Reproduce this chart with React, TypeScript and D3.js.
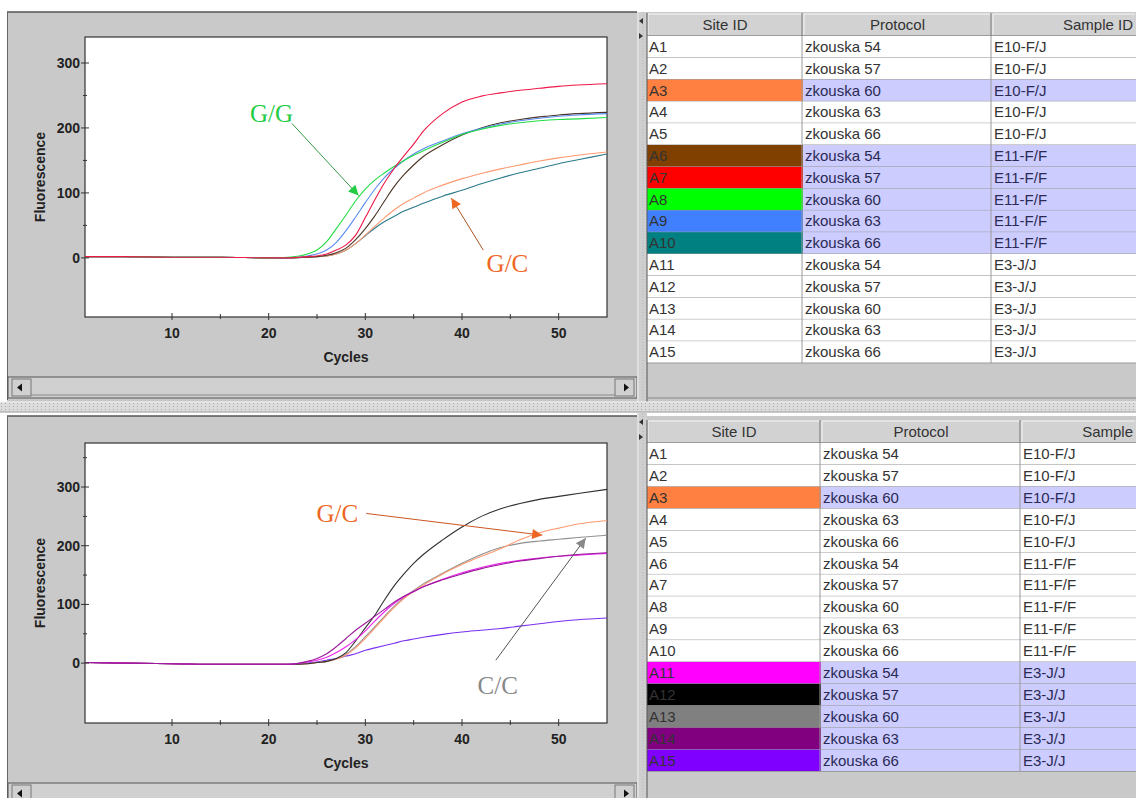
import React from "react";
import * as d3 from "d3";

const cycles = [1, 5, 10, 15, 20, 22, 24, 25, 26, 27, 28, 29, 30, 31, 32, 33, 34, 35, 36, 38, 40, 42, 44, 46, 48, 50, 52, 55];

// upper run (wells A3, A6..A10)
const topA3 = [2, 2, 1, 1, 0, 0, 1, 2, 3, 6, 12, 22, 35, 49, 62, 74, 84, 92, 100, 112, 122, 130, 137, 143, 149, 154, 158, 163];
const topA6 = [2, 2, 1, 1, 0, 0, 1, 2, 4, 8, 15, 28, 45, 65, 88, 110, 128, 143, 156, 174, 189, 200, 208, 213, 217, 220, 222, 224];
const topA7 = [2, 2, 1, 1, 0, 0, 2, 3, 6, 12, 20, 35, 62, 90, 116, 138, 157, 175, 195, 222, 240, 249, 254, 258, 261, 264, 266, 268];
const topA8 = [2, 2, 1, 1, 0, 1, 6, 12, 25, 45, 66, 88, 106, 120, 131, 141, 150, 158, 165, 178, 190, 198, 204, 208, 211, 213, 214, 216];
const topA9 = [2, 2, 1, 1, 0, 0, 3, 6, 12, 24, 42, 63, 85, 106, 124, 138, 150, 160, 168, 180, 191, 199, 206, 211, 215, 218, 220, 222];
const topA10 = [2, 2, 1, 1, 0, 0, 1, 2, 3, 6, 12, 22, 34, 46, 56, 64, 72, 78, 84, 95, 104, 114, 123, 131, 138, 145, 151, 160];

// lower run (wells A3, A11..A15)
const botA3 = [1, 0, -1, -2, -2, -2, -1, 1, 3, 7, 14, 26, 42, 60, 78, 95, 110, 122, 133, 152, 168, 182, 195, 210, 222, 230, 237, 243];
const botA11 = [1, 0, -1, -2, -2, -2, 2, 5, 10, 18, 28, 40, 55, 72, 88, 102, 113, 122, 130, 143, 154, 163, 170, 175, 179, 182, 184, 187];
const botA12 = [1, 0, -1, -2, -2, -2, -1, 1, 3, 8, 18, 38, 60, 82, 108, 132, 152, 170, 185, 210, 232, 250, 263, 272, 279, 284, 289, 296];
const botA13 = [1, 0, -1, -2, -2, -2, -1, 1, 3, 7, 15, 28, 45, 62, 80, 97, 112, 124, 135, 153, 170, 185, 197, 204, 208, 211, 214, 218];
const botA14 = [1, 0, -1, -2, -2, -2, 3, 8, 16, 28, 42, 56, 68, 80, 92, 104, 114, 122, 130, 142, 152, 161, 168, 174, 178, 182, 185, 188];
const botA15 = [1, 0, -1, -2, -2, -2, 0, 2, 5, 8, 12, 16, 22, 26, 30, 34, 38, 41, 44, 49, 53, 56, 59, 63, 67, 71, 74, 77];

const xTicks = [10, 20, 30, 40, 50];
const xMinor = [15, 25, 35, 45];
const yTicks = [0, 100, 200, 300];

// table contents
const siteIds = ["A1", "A2", "A3", "A4", "A5", "A6", "A7", "A8", "A9", "A10", "A11", "A12", "A13", "A14", "A15"];
const protocols = ["zkouska 54", "zkouska 57", "zkouska 60", "zkouska 63", "zkouska 66",
  "zkouska 54", "zkouska 57", "zkouska 60", "zkouska 63", "zkouska 66",
  "zkouska 54", "zkouska 57", "zkouska 60", "zkouska 63", "zkouska 66"];
const sampleIds = ["E10-F/J", "E10-F/J", "E10-F/J", "E10-F/J", "E10-F/J",
  "E11-F/F", "E11-F/F", "E11-F/F", "E11-F/F", "E11-F/F",
  "E3-J/J", "E3-J/J", "E3-J/J", "E3-J/J", "E3-J/J"];
const topHeaders = ["Site ID", "Protocol", "Sample ID"];
const bottomHeaders = ["Site ID", "Protocol", "Sample"];

const wellColors: Record<string, string> = {
  A3: "#ff8040", A6: "#804000", A7: "#ff0000", A8: "#00ff00", A9: "#4080ff", A10: "#008080",
  A11: "#ff00ff", A12: "#000000", A13: "#808080", A14: "#800080", A15: "#8000ff",
};
const lineColors: Record<string, string> = {
  A3: "#ff9a70", A6: "#4a3526", A7: "#ee1848", A8: "#22dd44", A9: "#5a8cf0", A10: "#2a7a8a",
  A11: "#ee22ee", A12: "#303030", A13: "#909090", A14: "#9a1a9a", A15: "#7a30f0",
};

const topSeries = [
  { id: "A10", values: topA10 }, { id: "A3", values: topA3 }, { id: "A6", values: topA6 },
  { id: "A9", values: topA9 }, { id: "A8", values: topA8 }, { id: "A7", values: topA7 },
];
const bottomSeries = [
  { id: "A15", values: botA15 }, { id: "A13", values: botA13 }, { id: "A3", values: botA3 },
  { id: "A12", values: botA12 }, { id: "A11", values: botA11 }, { id: "A14", values: botA14 },
];

// genotype call-outs, in data units (cycle, fluorescence)
const topNotes = [
  { text: "G/G", color: "#22cc44", line: "#339944", at: [20.3, 209], from: [22.4, 207], to: [29.3, 96] },
  { text: "G/C", color: "#ee6622", line: "#aa5522", at: [44.7, -22], from: [42.2, 12], to: [38.9, 92] },
];
const bottomNotes = [
  { text: "G/C", color: "#ee6622", line: "#cc5522", at: [27.1, 240], from: [30.1, 255], to: [48.3, 218] },
  { text: "C/C", color: "#888888", line: "#555555", at: [43.7, -52], from: [43.5, 5], to: [52.8, 213] },
];

const PANEL = "#c9c9c9";
const sans = "'Liberation Sans', Arial, sans-serif";

function Scrollbar({ y }: { y: number }) {
  return (
    <g>
      <rect x={8} y={y} width={629} height={21} fill="#d0d0d0" stroke="#555" />
      <rect x={12} y={y + 2} width={19} height={17} fill="#d0d0d0" stroke="#777" />
      <path d={`M17,${y + 10.5} l5,-4 v8 z`} fill="#111" />
      <rect x={615} y={y + 2} width={19} height={17} fill="#d0d0d0" stroke="#777" />
      <path d={`M629,${y + 10.5} l-5,-4 v8 z`} fill="#111" />
      <line x1={31} x2={615} y1={y + 18} y2={y + 18} stroke="#888" />
    </g>
  );
}

function Plot({ plotTop, plotBottom, yDomain, yMinor, series, notes, tag }: any) {
  const x = d3.scaleLinear().domain([1, 55]).range([85, 607]);
  const y = d3.scaleLinear().domain(yDomain).range([plotBottom, plotTop]);
  const line = d3.line<number>()
    .x((_, i) => x(cycles[i]))
    .y(d => y(d))
    .curve(d3.curveMonotoneX);
  const midX = (x.range()[0] + x.range()[1]) / 2;
  const midY = (plotTop + plotBottom) / 2;
  return (
    <g>
      <defs>
        <clipPath id={`clip-${tag}`}>
          <rect x={85} y={plotTop} width={522} height={plotBottom - plotTop} />
        </clipPath>
        {notes.map((n: any, i: number) => (
          <marker key={i} id={`head-${tag}-${i}`} viewBox="0 0 10 10" refX={10} refY={5}
            markerWidth={12} markerHeight={10} markerUnits="userSpaceOnUse" orient="auto">
            <path d="M0,0 L10,5 L0,10 z" fill={n.color} />
          </marker>
        ))}
      </defs>
      <rect x={85} y={plotTop} width={522} height={plotBottom - plotTop} fill="#fff" stroke="#333" strokeWidth={1.2} />
      <g clipPath={`url(#clip-${tag})`}>
        {series.map((s: any) => (
          <path key={s.id} d={line(s.values) || ""} fill="none" stroke={lineColors[s.id]} strokeWidth={1.1} />
        ))}
      </g>
      {yTicks.map(t => (
        <g key={t}>
          <line x1={81} x2={89} y1={y(t)} y2={y(t)} stroke="#333" />
          <text x={80} y={y(t) + 5} textAnchor="end" fontFamily={sans} fontWeight="bold" fontSize={14} fill="#222">{t}</text>
        </g>
      ))}
      {yMinor.map((t: number) => (
        <line key={t} x1={83} x2={87} y1={y(t)} y2={y(t)} stroke="#333" />
      ))}
      {xTicks.map(t => (
        <g key={t}>
          <line x1={x(t)} x2={x(t)} y1={plotBottom - 4} y2={plotBottom + 3} stroke="#333" />
          <text x={x(t)} y={plotBottom + 21} textAnchor="middle" fontFamily={sans} fontWeight="bold" fontSize={14} fill="#222">{t}</text>
        </g>
      ))}
      {xMinor.map(t => (
        <line key={t} x1={x(t)} x2={x(t)} y1={plotBottom - 3} y2={plotBottom + 2} stroke="#333" />
      ))}
      <text transform={`translate(45,${midY}) rotate(-90)`} textAnchor="middle" fontFamily={sans}
        fontWeight="bold" fontSize={14} fill="#222">Fluorescence</text>
      <text x={midX} y={plotBottom + 45} textAnchor="middle" fontFamily={sans} fontWeight="bold" fontSize={14} fill="#222">Cycles</text>
      {notes.map((n: any, i: number) => (
        <g key={i}>
          <line x1={x(n.from[0])} y1={y(n.from[1])} x2={x(n.to[0])} y2={y(n.to[1])}
            stroke={n.line} strokeWidth={1} markerEnd={`url(#head-${tag}-${i})`} />
          <text x={x(n.at[0])} y={y(n.at[1])} textAnchor="middle" fontFamily="'Liberation Serif', 'Times New Roman', serif"
            fontSize={25} fill={n.color}>{n.text}</text>
        </g>
      ))}
    </g>
  );
}

function Table({ top, rowH, cols, marked, headers }: any) {
  const headH = 23;
  const rows = d3.range(siteIds.length);
  const rowY = d3.scaleLinear().domain([0, 1]).range([top + headH, top + headH + rowH]);
  const right = 1136;
  const edges = [...cols, right];
  return (
    <g>
      <defs>
        <clipPath id={`tclip-${top}`}>
          <rect x={647} y={top} width={right - 647} height={400} />
        </clipPath>
      </defs>
      <g clipPath={`url(#tclip-${top})`}>
        {headers.map((h: string, i: number) => {
          const last = i === headers.length - 1;
          return (
            <g key={h}>
              <rect x={edges[i]} y={top} width={edges[i + 1] - edges[i]} height={headH} fill="#d2d2d2" />
              <line x1={edges[i] + 1} x2={edges[i + 1] - 1} y1={top + 1} y2={top + 1} stroke="#f4f4f4" />
              <line x1={edges[i] + 1} x2={edges[i] + 1} y1={top + 1} y2={top + headH - 1} stroke="#f4f4f4" />
              {!last && <line x1={edges[i + 1] - 1} x2={edges[i + 1] - 1} y1={top} y2={top + headH} stroke="#777" />}
              <text x={last ? right - 3 : (edges[i] + edges[i + 1]) / 2} y={top + 17}
                textAnchor={last ? "end" : "middle"} fontFamily={sans} fontSize={15} fill="#333">{h}</text>
            </g>
          );
        })}
        <line x1={647} x2={right} y1={top + headH} y2={top + headH} stroke="#666" />
        {rows.map(i => {
          const id = siteIds[i];
          const on = marked.includes(id);
          const y0 = rowY(i);
          const cells = [id, protocols[i], sampleIds[i]];
          return (
            <g key={id}>
              {cells.map((c, j) => (
                <g key={j}>
                  <rect x={edges[j]} y={y0} width={edges[j + 1] - edges[j]} height={rowH}
                    fill={on ? (j === 0 ? wellColors[id] : "#ccccff") : "#fff"} />
                  <text x={edges[j] + 2} y={y0 + 16} fontFamily={sans} fontSize={15}
                    fill={on && j > 0 ? "#2a2a55" : "#333"}>{c}</text>
                </g>
              ))}
              <line x1={647} x2={right} y1={y0 + rowH} y2={y0 + rowH} stroke="#9a9a9a" />
            </g>
          );
        })}
        {cols.slice(1).map((c: number) => (
          <line key={c} x1={c - 1} x2={c - 1} y1={top + headH} y2={rowY(rows.length)} stroke="#9a9a9a" />
        ))}
      </g>
      <line x1={647} x2={647} y1={top} y2={top + 390} stroke="#555" />
    </g>
  );
}

function Divider({ y }: { y: number }) {
  return (
    <g>
      <rect x={0} y={y} width={1136} height={10} fill="url(#dots)" />
      <line x1={0} x2={1136} y1={y} y2={y} stroke="#f2f2f2" />
      <line x1={0} x2={1136} y1={y + 10} y2={y + 10} stroke="#999" />
    </g>
  );
}

function Splitter({ y0, y1 }: { y0: number; y1: number }) {
  return (
    <g>
      <rect x={637} y={y0} width={10} height={y1 - y0} fill="#cfcfcf" />
      <line x1={638} x2={638} y1={y0} y2={y1} stroke="#eee" />
      <line x1={643} x2={643} y1={y0} y2={y1} stroke="#b4b4c4" strokeDasharray="1,2" />
      <path d={`M639,${y0 + 9} l4,-3 v6 z`} fill="#333" />
      <path d={`M643,${y0 + 24} l-4,-3 v6 z`} fill="#333" />
    </g>
  );
}

export default function App() {
  return (
    <div style={{ position: "absolute", left: 0, top: 0 }}>
      <svg width={1136} height={798} style={{ display: "block" }}>
        <defs>
          <pattern id="dots" width={4} height={3} patternUnits="userSpaceOnUse">
            <rect width={4} height={3} fill="#dcdcdc" />
            <rect x={1} y={1} width={1} height={1} fill="#a8a8a8" />
          </pattern>
        </defs>
        <rect width={1136} height={798} fill="#fff" />

        {/* upper half */}
        <rect x={7} y={12} width={630} height={390} fill={PANEL} />
        <line x1={7} x2={637} y1={12} y2={12} stroke="#555" strokeWidth={1.5} />
        <line x1={7.5} x2={7.5} y1={12} y2={400} stroke="#666" />
        <rect x={647} y={12} width={489} height={390} fill={PANEL} />
        <Plot plotTop={37} plotBottom={317} yDomain={[-91, 340]} yMinor={[50, 150, 250]}
          series={topSeries} notes={topNotes} tag="top" />
        <Scrollbar y={377} />
        <Splitter y0={12} y1={402} />
        <Table top={13} rowH={21.8} cols={[647, 803, 992]} marked={["A3", "A6", "A7", "A8", "A9", "A10"]}
          headers={topHeaders} />
        <line x1={647} x2={1136} y1={398} y2={398} stroke="#888" />

        <Divider y={402} />

        {/* lower half */}
        <rect x={7} y={416} width={630} height={382} fill={PANEL} />
        <line x1={7} x2={637} y1={416} y2={416} stroke="#555" strokeWidth={1.5} />
        <line x1={7.5} x2={7.5} y1={416} y2={798} stroke="#666" />
        <rect x={647} y={416} width={489} height={382} fill={PANEL} />
        <Plot plotTop={443} plotBottom={723} yDomain={[-102, 375]} yMinor={[50, 150, 250, 350]}
          series={bottomSeries} notes={bottomNotes} tag="bottom" />
        <Scrollbar y={783} />
        <Splitter y0={413} y1={798} />
        <Table top={420} rowH={21.9} cols={[647, 821, 1021]} marked={["A3", "A11", "A12", "A13", "A14", "A15"]}
          headers={bottomHeaders} />
      </svg>
    </div>
  );
}
